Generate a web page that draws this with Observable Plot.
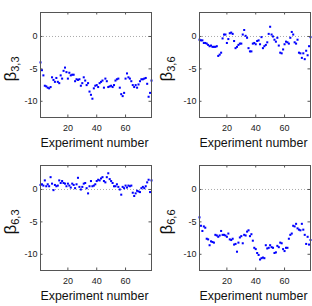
<!DOCTYPE html>
<html>
<head>
<meta charset="utf-8">
<script src="https://cdn.jsdelivr.net/npm/d3@7"></script>
<script src="https://cdn.jsdelivr.net/npm/@observablehq/plot@0.6"></script>
<style>
  html, body { margin: 0; padding: 0; background: white; }
  #wrap { position: relative; width: 312px; height: 306px; overflow: hidden; }
  #wrap > div { position: absolute; width: 156px; height: 153px; }
</style>
</head>
<body>
<div id="wrap">
  <div id="p1" style="left:0;top:0"></div>
  <div id="p2" style="left:156px;top:0"></div>
  <div id="p3" style="left:0;top:153px"></div>
  <div id="p4" style="left:156px;top:153px"></div>
</div>
<script>
const experiments = d3.range(1, 79);
const xTicks = [20, 40, 60];
const yTicks = [0, -5, -10];
const xLabel = "Experiment number";

const b33 = [-4.0,-5.2,-6.0,-7.6,-7.7,-7.9,-8.0,-7.8,-6.3,-6.7,-7.0,-6.4,-7.0,-7.2,-6.0,-6.5,-5.3,-4.8,-5.5,-6.5,
  -5.6,-6.0,-5.9,-5.9,-6.9,-6.6,-6.7,-6.6,-7.6,-7.2,-6.3,-6.8,-7.5,-7.2,-8.5,-9.0,-9.6,-8.0,-7.6,-7.5,
  -7.8,-7.2,-7.0,-6.8,-7.9,-6.5,-6.9,-7.8,-7.7,-7.6,-7.8,-7.5,-6.8,-6.6,-6.5,-7.9,-8.9,-9.2,-8.7,-6.5,
  -5.7,-6.3,-6.5,-6.9,-7.5,-7.8,-7.5,-7.9,-7.4,-6.9,-6.6,-6.6,-6.5,-6.4,-7.3,-9.3,-8.7,-6.8];
const b36 = [-0.5,-0.6,-0.6,-1.0,-1.0,-1.1,-1.3,-1.5,-1.4,-1.6,-1.6,-1.6,-1.5,-3.0,-2.8,-2.5,-0.3,0.3,0.3,-1.0,
  -0.4,0.5,0.6,0.4,-0.7,-1.8,-1.6,-1.3,-1.1,-1.1,0.3,1.0,0.1,-0.2,-1.8,-2.3,-2.3,-1.1,-1.0,-1.2,
  -0.7,-0.6,-1.2,-0.1,-1.8,-1.5,-1.3,-0.9,0.4,1.5,0.3,0.0,-0.5,-0.8,-0.2,-1.4,-2.5,-2.6,-2.0,-1.2,
  -0.8,-0.9,-1.1,-0.2,0.7,0.3,-0.9,-1.1,-0.5,-2.5,-2.6,-3.3,-2.6,-3.5,-2.2,-2.9,-1.5,-0.1];
const b63 = [0.7,0.8,0.6,1.4,0.5,0.8,0.5,1.9,0.9,-0.1,0.7,0.5,0.6,1.4,1.0,1.3,1.0,0.9,0.5,0.9,
  0.6,0.3,0.9,0.7,0.2,0.8,1.8,0.4,0.0,0.4,0.9,1.0,0.2,-0.6,0.5,1.3,0.5,0.6,0.8,1.3,
  1.5,1.4,1.7,1.9,1.3,1.1,1.9,2.5,1.6,1.3,1.0,0.5,0.5,0.8,0.4,0.0,-0.8,0.4,0.2,0.6,
  0.3,0.6,0.5,0.6,-0.5,-1.0,-0.6,-0.2,-0.3,-0.4,0.2,0.4,0.2,0.5,1.1,1.5,-0.4,1.4];
const b66 = [-4.3,-5.6,-6.4,-5.7,-5.9,-7.6,-7.7,-8.6,-8.0,-8.1,-8.2,-7.0,-7.1,-7.3,-7.1,-6.4,-7.0,-7.0,-7.1,-7.3,
  -6.8,-7.7,-7.8,-7.6,-8.5,-8.4,-9.6,-8.2,-7.4,-7.2,-8.3,-7.0,-7.1,-6.5,-6.3,-7.2,-6.9,-7.9,-9.0,-9.2,
  -9.8,-10.1,-10.8,-10.6,-10.5,-10.6,-8.6,-9.1,-9.0,-8.6,-8.9,-9.0,-9.8,-9.7,-8.7,-8.9,-8.2,-8.3,-9.2,-9.5,
  -9.0,-9.0,-7.6,-7.0,-6.8,-5.6,-5.7,-5.3,-6.0,-6.2,-6.3,-5.3,-6.2,-7.0,-8.4,-7.3,-8.5,-7.8];

const panels = [
  {id: "p1", values: b33, sub: "3,3", ml: 40, mr: 5},
  {id: "p2", values: b36, sub: "3,6", ml: 43, mr: 2},
  {id: "p3", values: b63, sub: "6,3", ml: 40, mr: 5},
  {id: "p4", values: b66, sub: "6,6", ml: 43, mr: 2}
];

const W = 156, H = 153, MT = 12, MB = 36;
const innerH = H - MT - MB;
const frameColor = "#555";

for (const p of panels) {
  const data = experiments.map((e, i) => ({e, v: p.values[i]}));
  const innerW = W - p.ml - p.mr;
  const svg = Plot.plot({
    width: W, height: H,
    marginLeft: p.ml, marginRight: p.mr, marginTop: MT, marginBottom: MB,
    x: {domain: [1, 78]},
    y: {domain: [-12.5, 3.7]},
    style: {fontFamily: "'Liberation Sans', Arial, sans-serif", fontSize: "9px", color: "#222", background: "white", overflow: "visible"},
    marks: [
      Plot.ruleY([0], {stroke: "#aaa", strokeDasharray: "1,2"}),
      Plot.dot(data, {x: "e", y: "v", symbol: "square", r: 1.15, fill: "#0000ff", stroke: null}),
      Plot.tickX(xTicks, {stroke: frameColor, insetTop: innerH - 2.5}),
      Plot.tickX(xTicks, {stroke: frameColor, insetBottom: innerH - 2.5}),
      Plot.tickY(yTicks, {stroke: frameColor, insetRight: innerW - 2.5}),
      Plot.tickY(yTicks, {stroke: frameColor, insetLeft: innerW - 2.5}),
      Plot.frame({stroke: frameColor}),
      Plot.axisX(xTicks, {tickSize: 0, tickPadding: 7, label: null}),
      Plot.axisY(yTicks, {tickSize: 0, tickPadding: 3, label: null, tickFormat: d => String(d)})
    ]
  });
  const s = d3.select(svg);
  s.append("text")
    .attr("x", p.ml + innerW / 2 - 1).attr("y", 146.5)
    .attr("text-anchor", "middle")
    .attr("font-family", "'Liberation Sans', Arial, sans-serif")
    .attr("font-size", 12.5)
    .attr("textLength", 108).attr("lengthAdjust", "spacingAndGlyphs")
    .attr("fill", "#111")
    .text(xLabel);
  const yl = s.append("text")
    .attr("transform", `translate(16,69) rotate(-90)`)
    .attr("text-anchor", "middle")
    .attr("font-family", "'Liberation Sans', Arial, sans-serif")
    .attr("fill", "#111");
  yl.append("tspan").attr("font-size", 17).text("β");
  yl.append("tspan").attr("font-size", 11).attr("dy", 3).text(p.sub);
  document.getElementById(p.id).appendChild(svg);
}
</script>
</body>
</html>
